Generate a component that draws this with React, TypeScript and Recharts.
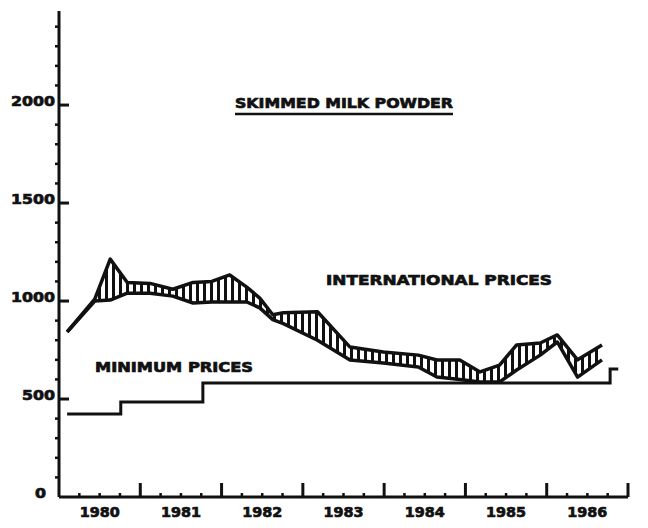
import { ComposedChart, Area, Line, XAxis, YAxis } from 'recharts'

const INK = '#111'
const FONT = '"DejaVu Sans", Verdana, sans-serif'

// international prices band (US$/t), lower and upper edge
const intlT = [
  1980.1, 1980.44, 1980.63, 1980.84, 1981.12, 1981.4, 1981.65, 1981.88, 1982.1,
  1982.31, 1982.47, 1982.63, 1982.76, 1983.18, 1983.58, 1983.99, 1984.42, 1984.65,
  1984.93, 1985.18, 1985.42, 1985.63, 1985.92, 1986.13, 1986.38, 1986.68,
]
const intlLow = [
  842, 1000, 1005, 1040, 1040, 1025, 990, 995, 995, 995, 965, 905, 885, 800, 699,
  684, 663, 612, 600, 587, 587, 648, 724, 791, 612, 700,
]
const intlHigh = [
  842, 1010, 1214, 1095, 1090, 1060, 1095, 1100, 1133, 1071, 1015, 930, 940, 945,
  765, 740, 724, 699, 699, 638, 673, 776, 786, 827, 700, 776,
]

// minimum prices, step changes
const minT = [1980.1, 1980.76, 1981.77, 1986.78, 1986.88]
const minPrice = [423, 485, 582, 653, 653]

const yearLabels = ['1980', '1981', '1982', '1983', '1984', '1985', '1986']
const xTicks = Array.from({ length: 29 }, (_, i) => 1980 + i * 0.25)
const yTicks = Array.from({ length: 25 }, (_, i) => i * 100)

const bandData = intlT.map((t, i) => ({ t, band: [intlLow[i], intlHigh[i]] }))
const minData = minT.map((t, i) => ({ t, price: minPrice[i] }))

// heavy, slightly smudged lettering like the typewritten original
const textStyle = {
  fontFamily: FONT,
  fontWeight: 700,
  fontSize: 14,
  fill: INK,
  stroke: INK,
  strokeWidth: 0.7,
}

// eslint-disable-next-line @typescript-eslint/no-explicit-any
function XTick(props: any) {
  const { x, y, payload } = props
  const v: number = payload.value
  const frac = v - Math.floor(v)
  const isYear = frac < 1e-6
  const isMid = Math.abs(frac - 0.5) < 1e-6
  const label = isMid ? yearLabels[Math.floor(v) - 1980] : undefined
  return (
    <g>
      {v > 1980 && (
        <line x1={x} x2={x} y1={y} y2={y - (isYear ? 14 : 4)} stroke={INK} strokeWidth={isYear ? 3 : 2.5} />
      )}
      {label && (
        <text x={x - 20} y={y + 20} textLength={40} lengthAdjust="spacingAndGlyphs" {...textStyle}>
          {label}
        </text>
      )}
    </g>
  )
}

// eslint-disable-next-line @typescript-eslint/no-explicit-any
function YTick(props: any) {
  const { x, y, payload } = props
  const v: number = payload.value
  const major = v % 500 === 0
  const label = String(v)
  const w = label.length * 11
  return (
    <g>
      {major && v > 0 && <line x1={x} x2={x + 10} y1={y} y2={y} stroke={INK} strokeWidth={3} />}
      {!major && <line x1={x - 4} x2={x} y1={y} y2={y} stroke={INK} strokeWidth={2.5} />}
      {major && (
        <text
          x={(v === 0 ? x - 13 : x - 4) - w}
          y={y + 1}
          textLength={w}
          lengthAdjust="spacingAndGlyphs"
          {...textStyle}
        >
          {label}
        </text>
      )}
    </g>
  )
}

export default function App() {
  return (
    <div style={{ position: 'absolute', left: 0, top: 0, width: 648, height: 528, background: '#fff' }}>
      <ComposedChart width={648} height={528} data={bandData} margin={{ top: 11, right: 20, bottom: 0, left: 0 }}>
        <defs>
          <pattern id="hatch" width="7" height="7" patternUnits="userSpaceOnUse">
            <rect x="0" y="0" width="3" height="7" fill={INK} />
          </pattern>
        </defs>
        <XAxis
          type="number"
          dataKey="t"
          domain={[1980, 1987]}
          ticks={xTicks}
          interval={0}
          height={31}
          tickSize={0}
          tickMargin={0}
          tickLine={false}
          axisLine={{ stroke: INK, strokeWidth: 3 }}
          tick={<XTick />}
        />
        <YAxis
          type="number"
          domain={[0, 2480]}
          ticks={yTicks}
          interval={0}
          width={59}
          tickSize={0}
          tickMargin={0}
          tickLine={false}
          axisLine={{ stroke: INK, strokeWidth: 3 }}
          tick={<YTick />}
        />
        <Area
          type="linear"
          dataKey="band"
          stroke={INK}
          strokeWidth={3.5}
          strokeLinejoin="round"
          fill="url(#hatch)"
          fillOpacity={1}
          dot={false}
          activeDot={false}
          isAnimationActive={false}
        />
        <Line
          data={minData}
          type="stepAfter"
          dataKey="price"
          stroke={INK}
          strokeWidth={3}
          dot={false}
          activeDot={false}
          isAnimationActive={false}
        />
        <text x={235} y={108} textLength={218} lengthAdjust="spacingAndGlyphs" {...textStyle}>
          SKIMMED MILK POWDER
        </text>
        <line x1={235} x2={453} y1={114} y2={114} stroke={INK} strokeWidth={2.5} />
        <text x={326} y={285} textLength={226} lengthAdjust="spacingAndGlyphs" {...textStyle}>
          INTERNATIONAL PRICES
        </text>
        <text x={95} y={372} textLength={158} lengthAdjust="spacingAndGlyphs" {...textStyle}>
          MINIMUM PRICES
        </text>
      </ComposedChart>
    </div>
  )
}
